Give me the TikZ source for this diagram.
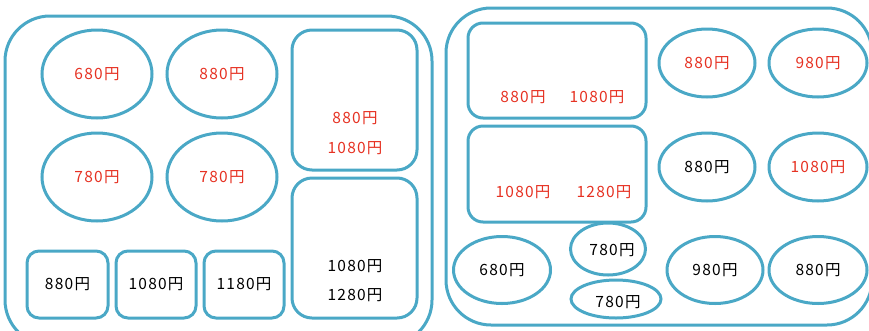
\documentclass[tikz,border=0pt]{standalone}
\usepackage{fontspec}
\setmainfont{Noto Sans CJK JP}[LetterSpace=8]
\usetikzlibrary{shapes.geometric}
\definecolor{traycol}{RGB}{74,168,198}
\definecolor{pricered}{RGB}{230,50,35}
\tikzset{
	tray/.style={draw=traycol,line width=3pt,rounded corners=45pt},
	dish/.style={draw=traycol,line width=3pt,ellipse,inner sep=0pt,font=\fontsize{15.5}{15.5}\selectfont},
	box/.style={draw=traycol,line width=3pt,rounded corners=12pt,inner sep=0pt,font=\fontsize{15.5}{15.5}\selectfont},
	price/.style={font=\fontsize{15.5}{15.5}\selectfont},
	hot/.style={text=pricered},
}
\begin{document}
\begin{tikzpicture}[x=1pt,y=-1pt]
		\useasboundingbox (0,0) rectangle (869,330);
		\clip (0,0) rectangle (869,330);
		% left tray
		\draw[tray] (5,16) rectangle (432,345);
		\node[dish,hot,minimum width=110pt,minimum height=88pt] (LA) at (97,74) {680円};
		\node[dish,hot,minimum width=110pt,minimum height=88pt] (LB) at (222,74) {880円};
		\node[dish,hot,minimum width=110pt,minimum height=88pt] (LC) at (97,177) {780円};
		\node[dish,hot,minimum width=110pt,minimum height=88pt] (LD) at (222,177) {780円};
		\node[box,rounded corners=20pt,minimum width=125pt,minimum height=140pt] (LE) at (354.5,100) {};
		\node[box,rounded corners=20pt,minimum width=125pt,minimum height=140pt] (LF) at (354.5,248) {};
		\node[price,hot] (LE1) at (355,118) {880円};
		\node[price,hot] (LE2) at (355,148) {1080円};
		\node[price] (LF1) at (355,266) {1080円};
		\node[price] (LF2) at (355,295) {1280円};
		\node[box,minimum width=81pt,minimum height=67pt] (LG) at (67.5,284.5) {880円};
		\node[box,minimum width=80pt,minimum height=67pt] (LH) at (156,284.5) {1080円};
		\node[box,minimum width=80pt,minimum height=67pt] (LI) at (244,284.5) {1180円};
		% right tray
		\draw[tray] (446,8) rectangle (872,325);
		\node[box,rounded corners=15pt,minimum width=178pt,minimum height=95pt] (RA) at (557,70.5) {};
		\node[box,rounded corners=15pt,minimum width=178pt,minimum height=96pt] (RB) at (557,174) {};
		\node[price,hot] (RA1) at (523,97) {880円};
		\node[price,hot] (RA2) at (597,97) {1080円};
		\node[price,hot] (RB1) at (523,192) {1080円};
		\node[price,hot] (RB2) at (604,192) {1280円};
		\node[dish,hot,minimum width=96pt,minimum height=68pt] (RC) at (707,63) {880円};
		\node[dish,hot,minimum width=98pt,minimum height=68pt] (RD) at (818,63) {980円};
		\node[dish,minimum width=96pt,minimum height=68pt] (RE) at (707,167) {880円};
		\node[dish,hot,minimum width=98pt,minimum height=68pt] (RF) at (818,167) {1080円};
		\node[dish,minimum width=97pt,minimum height=67pt] (RG) at (502,270) {680円};
		\node[dish,minimum width=75pt,minimum height=52pt] (RH) at (608,249) {};
		\node[price] (RH1) at (612,250) {780円};
		\node[dish,minimum width=90pt,minimum height=38pt] (RI) at (616,299) {};
		\node[price] (RI1) at (618,302) {780円};
		\node[dish,minimum width=96pt,minimum height=67pt] (RJ) at (715,270) {980円};
		\node[dish,minimum width=98pt,minimum height=67pt] (RK) at (818,270) {880円};
	\end{tikzpicture}
\end{document}
